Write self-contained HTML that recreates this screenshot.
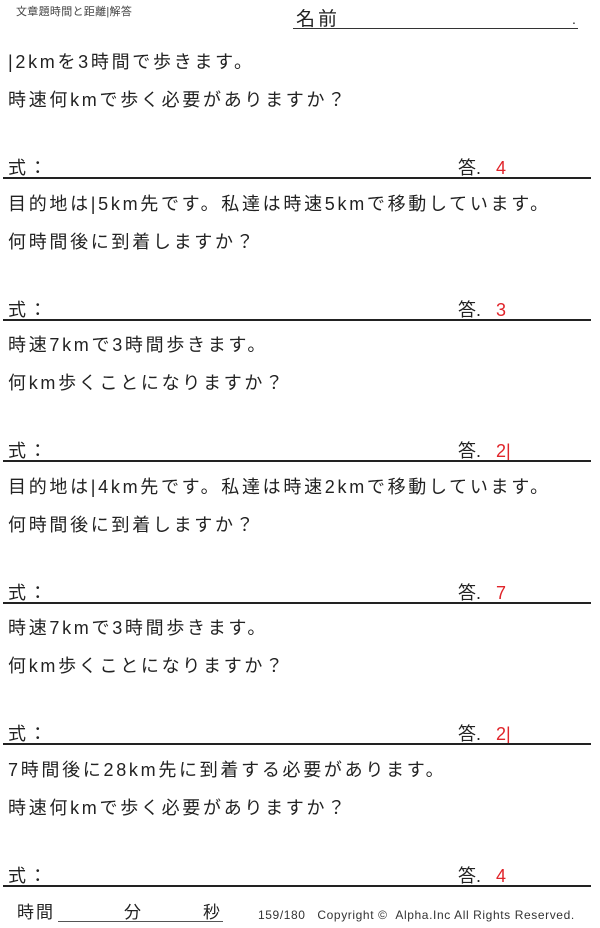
<!DOCTYPE html>
<html><head><meta charset="utf-8"><style>
body{margin:0;width:600px;height:928px;background:#fff;position:relative;overflow:hidden;font-family:"Liberation Sans","Noto Sans CJK JP",sans-serif;color:#222}
.t{position:absolute;white-space:nowrap;line-height:1}
.q{font-size:18px;letter-spacing:2.7px;left:8px}
.l{position:absolute;left:3px;width:588px;height:2px;background:#222}
.r{color:#e0242a}
</style></head><body>
<div class="t" style="left:16px;top:7px;font-size:11px;color:#444;letter-spacing:0.3px">文章題時間と距離|解答</div>
<div class="t" style="left:296px;top:10px;font-size:19px;letter-spacing:3px">名前</div>
<div style="position:absolute;left:293px;top:28px;width:285px;height:1px;background:#333"></div>
<div class="t" style="left:572px;top:12px;font-size:14px">.</div>

<div style="position:absolute;left:0;top:0">
<div class="t q" style="top:53px">|2kmを3時間で歩きます。</div>
<div class="t q" style="top:91px">時速何kmで歩く必要がありますか？</div>
<div class="t q" style="top:159px">式：</div>
<div class="t" style="left:458px;top:159px;font-size:18px">答.&nbsp;&nbsp; <span class="r">4</span></div>
<div class="l" style="top:177px"></div></div>

<div style="position:absolute;left:0;top:141.6px">
<div class="t q" style="top:53px">目的地は|5km先です。私達は時速5kmで移動しています。</div>
<div class="t q" style="top:91px">何時間後に到着しますか？</div>
<div class="t q" style="top:159px">式：</div>
<div class="t" style="left:458px;top:159px;font-size:18px">答.&nbsp;&nbsp; <span class="r">3</span></div>
<div class="l" style="top:177px"></div></div>

<div style="position:absolute;left:0;top:283.2px">
<div class="t q" style="top:53px">時速7kmで3時間歩きます。</div>
<div class="t q" style="top:91px">何km歩くことになりますか？</div>
<div class="t q" style="top:159px">式：</div>
<div class="t" style="left:458px;top:159px;font-size:18px">答.&nbsp;&nbsp; <span class="r">2|</span></div>
<div class="l" style="top:177px"></div></div>

<div style="position:absolute;left:0;top:424.8px">
<div class="t q" style="top:53px">目的地は|4km先です。私達は時速2kmで移動しています。</div>
<div class="t q" style="top:91px">何時間後に到着しますか？</div>
<div class="t q" style="top:159px">式：</div>
<div class="t" style="left:458px;top:159px;font-size:18px">答.&nbsp;&nbsp; <span class="r">7</span></div>
<div class="l" style="top:177px"></div></div>

<div style="position:absolute;left:0;top:566.4px">
<div class="t q" style="top:53px">時速7kmで3時間歩きます。</div>
<div class="t q" style="top:91px">何km歩くことになりますか？</div>
<div class="t q" style="top:159px">式：</div>
<div class="t" style="left:458px;top:159px;font-size:18px">答.&nbsp;&nbsp; <span class="r">2|</span></div>
<div class="l" style="top:177px"></div></div>

<div style="position:absolute;left:0;top:708px">
<div class="t q" style="top:53px">7時間後に28km先に到着する必要があります。</div>
<div class="t q" style="top:91px">時速何kmで歩く必要がありますか？</div>
<div class="t q" style="top:159px">式：</div>
<div class="t" style="left:458px;top:159px;font-size:18px">答.&nbsp;&nbsp; <span class="r">4</span></div>
<div class="l" style="top:177px"></div></div>

<div class="t" style="left:17px;top:904px;font-size:17px;letter-spacing:2px">時間</div>
<div style="position:absolute;left:58px;top:921px;width:165px;height:1px;background:#555"></div>
<div class="t" style="left:124px;top:904px;font-size:17px">分</div>
<div class="t" style="left:203px;top:904px;font-size:17px">秒</div>
<div class="t" style="left:258px;top:909px;font-size:12px;color:#333;letter-spacing:0.6px">159/180 &nbsp; Copyright © &nbsp;Alpha.Inc All Rights Reserved.</div>
</body></html>
